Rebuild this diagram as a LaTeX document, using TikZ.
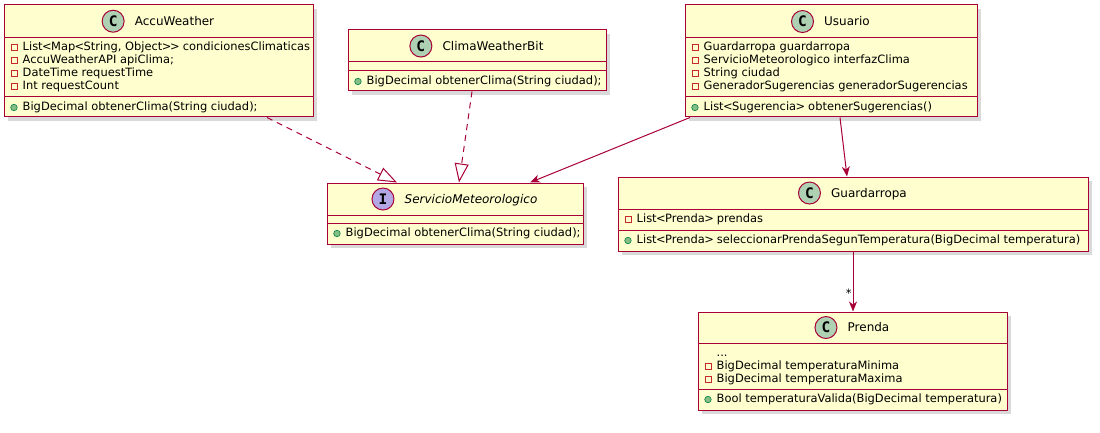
\documentclass[tikz,border=0pt]{standalone}
\usepackage{fontspec}
\setmainfont{DejaVu Sans}
\newfontfamily\iconfont{DejaVu Sans Mono}
\usetikzlibrary{arrows.meta,fit,positioning,shadows}

\definecolor{classfill}{HTML}{FEFECE}
\definecolor{classline}{HTML}{A80036}
\definecolor{iconC}{HTML}{ADD1B2}
\definecolor{iconI}{HTML}{B4A7E5}
\definecolor{privred}{HTML}{C82930}
\definecolor{pubfill}{HTML}{84BE84}
\definecolor{publine}{HTML}{038048}

\newcommand{\abra}{\kern-.6pt<\kern-.6pt}
\newcommand{\aket}{\kern-.6pt>\kern-.6pt}

\begin{document}
\begin{tikzpicture}[x=1pt,y=-1pt,>={Stealth[length=10pt,width=8pt,inset=3pt]},
  classbox/.style={draw=classline,fill=classfill,line width=1pt,inner sep=0pt,drop shadow={shadow xshift=4pt,shadow yshift=-4pt,opacity=0.3}},
  sep/.style={draw=classline,line width=1pt},
  title/.style={anchor=base,inner sep=0pt,text height=8.75pt,text depth=0pt,font=\fontsize{12}{14}\selectfont},
  icon/.style={circle,draw=classline,fill=#1,line width=1pt,minimum size=22pt,inner sep=0pt,font=\iconfont\bfseries\fontsize{14.5}{14.5}\selectfont},
  member/.style={anchor=base west,inner sep=0pt,text height=8pt,text depth=2pt,font=\fontsize{11.45}{13}\selectfont},
  priv/.style={member,label={[xshift=-5pt,draw=privred,line width=0.8pt,minimum size=6pt,inner sep=0pt,text height=0pt,text depth=0pt]left:{}}},
  pub/.style={member,label={[xshift=-5pt,circle,draw=publine,fill=pubfill,line width=0.6pt,minimum size=6.5pt,inner sep=0pt,text height=0pt,text depth=0pt]left:{}}},
  real/.style={draw=classline,line width=1pt,dash pattern=on 6pt off 5pt,-{Triangle[open,length=19pt,width=14pt]}},
  assoc/.style={draw=classline,line width=1pt,->},
  mult/.style={pos=0.7,left,inner sep=1pt,font=\fontsize{11.45}{13}\selectfont}]
\useasboundingbox (0,0) rectangle (1100,433);

% AccuWeather
\node[classbox,fit={(4,5) (313,117)}] (accu) {};
\draw[sep] (4,37.5) -- (313,37.5);
\draw[sep] (4,97) -- (313,97);
\node[title] (accuT) at (174.5,25.6) {AccuWeather};
\node[icon=iconC,left=10pt of accuT] (accuI) {C};
\node[priv] (accuA1) at (22.5,50.7) {List\abra Map\abra String, Object\aket\aket{} condicionesClimaticas};
\node[priv] (accuA2) at (22.5,63.7) {AccuWeatherAPI apiClima;};
\node[priv] (accuA3) at (22.5,76.7) {DateTime requestTime};
\node[priv] (accuA4) at (22.5,89.7) {Int requestCount};
\node[pub] (accuM1) at (22.5,110.5) {BigDecimal obtenerClima(String ciudad);};

% ClimaWeatherBit
\node[classbox,fit={(348,30) (606,91)}] (clima) {};
\draw[sep] (348,62) -- (606,62);
\draw[sep] (348,71) -- (606,71);
\node[title] (climaT) at (493,50.4) {ClimaWeatherBit};
\node[icon=iconC,left=10pt of climaT] (climaI) {C};
\node[pub] (climaM1) at (366.5,84.5) {BigDecimal obtenerClima(String ciudad);};

% ServicioMeteorologico
\node[classbox,fit={(327,183) (583,244)}] (serv) {};
\draw[sep] (327,215) -- (583,215);
\draw[sep] (327,223) -- (583,223);
\node[title] (servT) at (471,203.4) {\itshape ServicioMeteorologico};
\node[icon=iconI,left=10pt of servT] (servI) {I};
\node[pub] (servM1) at (345.5,236.5) {BigDecimal obtenerClima(String ciudad);};

% Usuario
\node[classbox,fit={(685,5) (977,117)}] (usuario) {};
\draw[sep] (685,38) -- (977,38);
\draw[sep] (685,97) -- (977,97);
\node[title] (usuarioT) at (847,25.9) {Usuario};
\node[icon=iconC,left=10pt of usuarioT] (usuarioI) {C};
\node[priv] (usuarioA1) at (703.5,50.7) {Guardarropa guardarropa};
\node[priv] (usuarioA2) at (703.5,63.7) {ServicioMeteorologico interfazClima};
\node[priv] (usuarioA3) at (703.5,76.7) {String ciudad};
\node[priv] (usuarioA4) at (703.5,89.7) {GeneradorSugerencias generadorSugerencias};
\node[pub] (usuarioM1) at (703.5,110.5) {List\abra Sugerencia\aket{} obtenerSugerencias()};

% Guardarropa
\node[classbox,fit={(618,177) (1088,251)}] (guard) {};
\draw[sep] (618,209) -- (1088,209);
\draw[sep] (618,230) -- (1088,230);
\node[title] (guardT) at (869,197.4) {Guardarropa};
\node[icon=iconC,left=10pt of guardT] (guardI) {C};
\node[priv] (guardA1) at (636.5,222.5) {List\abra Prenda\aket{} prendas};
\node[pub] (guardM1) at (636.5,243.5) {List\abra Prenda\aket{} seleccionarPrendaSegunTemperatura(BigDecimal temperatura)};

% Prenda
\node[classbox,fit={(698,312) (1007,410)}] (prenda) {};
\draw[sep] (698,343) -- (1007,343);
\draw[sep] (698,389) -- (1007,389);
\node[title] (prendaT) at (868.5,331.9) {Prenda};
\node[icon=iconC,left=10pt of prendaT] (prendaI) {C};
\node[member] (prendaA0) at (716.5,356.2) {...};
\node[priv] (prendaA1) at (716.5,369.2) {BigDecimal temperaturaMinima};
\node[priv] (prendaA2) at (716.5,382.2) {BigDecimal temperaturaMaxima};
\node[pub] (prendaM1) at (716.5,402.5) {Bool temperaturaValida(BigDecimal temperatura)};

% relaciones
\draw[real] ([xshift=108.5pt]accu.south) -- ([xshift=-58pt]serv.north);
\draw[real] ([xshift=-5pt]clima.south) -- ([xshift=4pt]serv.north);
\draw[assoc] ([xshift=-141pt]usuario.south) -- ([xshift=75pt]serv.north);
\draw[assoc] ([xshift=9pt]usuario.south) -- ([xshift=-6pt]guard.north);
\draw[assoc] (guard.south) -- node[mult] {*} (guard.south |- prenda.north);
\end{tikzpicture}
\end{document}
